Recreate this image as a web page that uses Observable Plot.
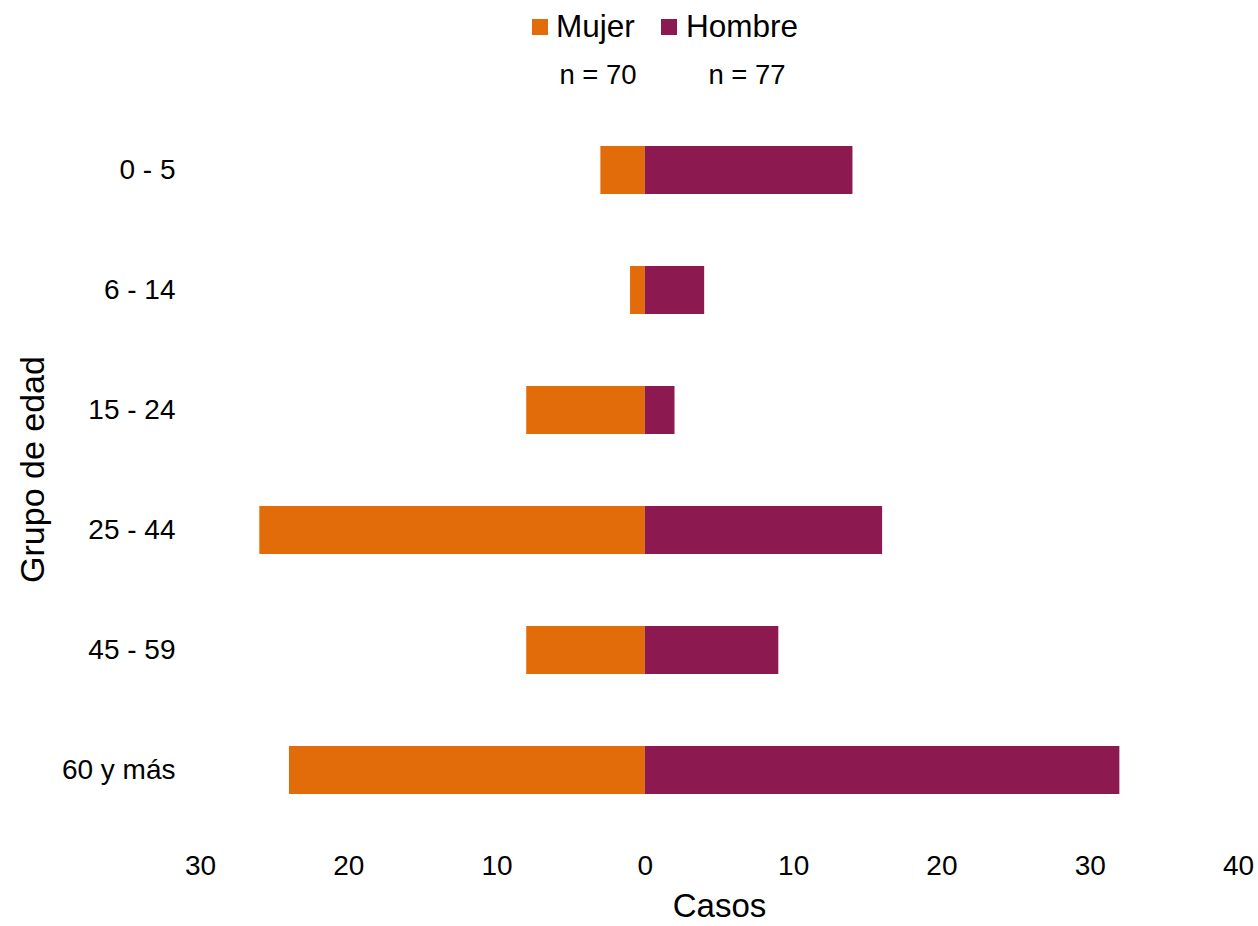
<!DOCTYPE html>
<html>
<head>
<meta charset="utf-8">
<script src="https://cdn.jsdelivr.net/npm/d3@7"></script>
<script src="https://cdn.jsdelivr.net/npm/@observablehq/plot@0.6"></script>
<style>
  body { margin: 0; background: #fff; font-family: "Liberation Sans", Arial, sans-serif; }
  #wrap { position: relative; width: 1258px; height: 926px; }
  #legend { position: absolute; left: 0; top: 0; width: 1258px; height: 100px; font-family: "Liberation Sans", Arial, sans-serif; color: #000; }
  .sw { position: absolute; width: 16px; height: 16px; }
  .lab { position: absolute; font-size: 31.5px; line-height: 1; }
  .n { position: absolute; font-size: 27.5px; line-height: 1; }
</style>
</head>
<body>
<div id="wrap">
  <div id="chart"></div>
  <div id="legend"></div>
</div>
<script>
const grupos = ["0 - 5", "6 - 14", "15 - 24", "25 - 44", "45 - 59", "60 y más"];
const mujer = [3, 1, 8, 26, 8, 24];
const hombre = [14, 4, 2, 16, 9, 32];
const sexos = ["Mujer", "Hombre"];
const colores = ["#E36C0A", "#8C1A51"];
const totales = [70, 77];
const xTicks = [-30, -20, -10, 0, 10, 20, 30, 40];

const datos = [];
grupos.forEach((g, i) => {
  datos.push({grupo: g, sexo: "Mujer", valor: -mujer[i]});
  datos.push({grupo: g, sexo: "Hombre", valor: hombre[i]});
});

const chart = Plot.plot({
  width: 1258,
  height: 926,
  marginLeft: 200,
  marginRight: 20,
  marginTop: 88,
  marginBottom: 76,
  style: {fontFamily: "Liberation Sans, Arial, sans-serif", fontSize: "28px", color: "#000", background: "#fff"},
  x: {domain: [-30, 40]},
  y: {domain: grupos, range: [71, 868], paddingInner: 0.6, paddingOuter: 0.6},
  color: {domain: sexos, range: colores},
  marks: [
    Plot.barX(datos, {y: "grupo", x1: 0, x2: "valor", fill: "sexo"}),
    Plot.axisX({ticks: xTicks, tickFormat: d => Math.abs(d), tickSize: 0, tickPadding: 5,
      fontSize: 28, label: "Casos", labelAnchor: "center", labelArrow: "none", labelOffset: 66}),
    Plot.axisY({tickSize: 0, tickPadding: 25, fontSize: 28,
      label: "Grupo de edad", labelAnchor: "center", labelArrow: "none", labelOffset: 181})
  ]
});
chart.querySelectorAll("[aria-label='x-axis label'] text").forEach(t => t.setAttribute("font-size", "33"));
chart.querySelectorAll("[aria-label='y-axis label'] text").forEach(t => t.setAttribute("font-size", "34"));
document.getElementById("chart").appendChild(chart);

const leg = document.getElementById("legend");
const swX = [532, 661], txX = [556, 686], nX = [598, 747];
sexos.forEach((s, i) => {
  const sw = document.createElement("div");
  sw.className = "sw"; sw.style.left = swX[i] + "px"; sw.style.top = "19px"; sw.style.background = colores[i];
  leg.appendChild(sw);
  const t = document.createElement("div");
  t.className = "lab"; t.style.left = txX[i] + "px"; t.style.top = "11px"; t.textContent = s;
  leg.appendChild(t);
  const n = document.createElement("div");
  n.className = "n"; n.style.left = (nX[i] - 50) + "px"; n.style.width = "100px"; n.style.textAlign = "center";
  n.style.top = "61px"; n.textContent = "n = " + totales[i];
  leg.appendChild(n);
});
</script>
</body>
</html>
